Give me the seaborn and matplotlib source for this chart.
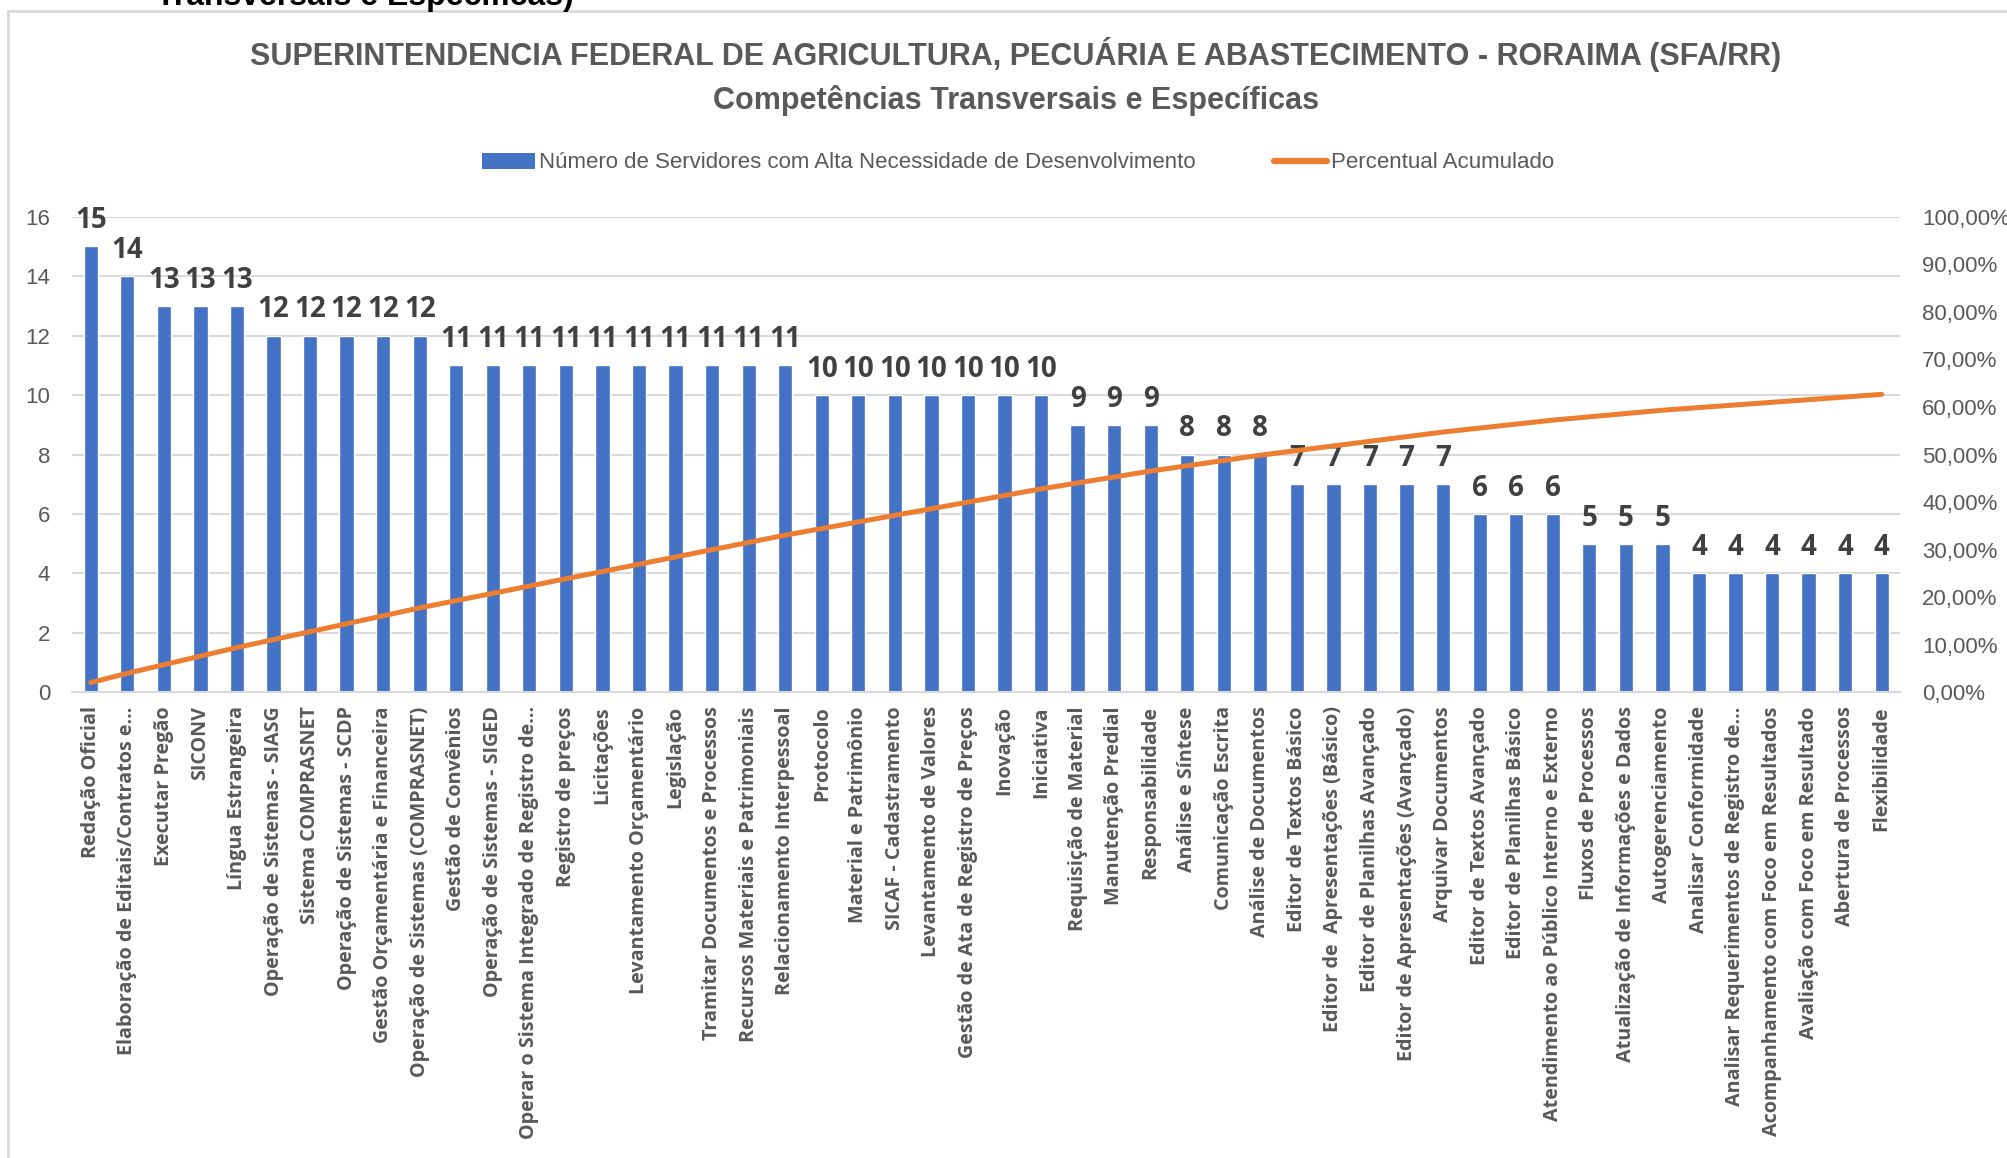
import numpy as np
import pandas as pd
import matplotlib
matplotlib.use("Agg")
import matplotlib.pyplot as plt
from matplotlib import font_manager
from matplotlib.patches import Patch, Rectangle
from matplotlib.lines import Line2D
import seaborn as sns

# dados
competencias = [
    "Redação Oficial", "Elaboração de Editais/Contratos e...", "Executar Pregão", "SICONV",
    "Língua Estrangeira", "Operação de Sistemas - SIASG", "Sistema COMPRASNET",
    "Operação de Sistemas - SCDP", "Gestão Orçamentária e Financeira",
    "Operação de Sistemas (COMPRASNET)", "Gestão de Convênios", "Operação de Sistemas - SIGED",
    "Operar o Sistema Integrado de Registro de...", "Registro de preços", "Licitações",
    "Levantamento Orçamentário", "Legislação", "Tramitar Documentos e Processos",
    "Recursos Materiais e Patrimoniais", "Relacionamento Interpessoal", "Protocolo",
    "Material e Patrimônio", "SICAF - Cadastramento", "Levantamento de Valores",
    "Gestão de Ata de Registro de Preços", "Inovação", "Iniciativa", "Requisição de Material",
    "Manutenção Predial", "Responsabilidade", "Análise e Síntese", "Comunicação Escrita",
    "Análise de Documentos", "Editor de Textos Básico", "Editor de  Apresentações (Básico)",
    "Editor de Planilhas Avançado", "Editor de Apresentações (Avançado)", "Arquivar Documentos",
    "Editor de Textos Avançado", "Editor de Planilhas Básico",
    "Atendimento ao Público Interno e Externo", "Fluxos de Processos",
    "Atualização de Informações e Dados", "Autogerenciamento", "Analisar Conformidade",
    "Analisar Requerimentos de Registro de...", "Acompanhamento com Foco em Resultados",
    "Avaliação com Foco em Resultado", "Abertura de Processos", "Flexibilidade",
]
servidores = [15, 14, 13, 13, 13, 12, 12, 12, 12, 12,
              11, 11, 11, 11, 11, 11, 11, 11, 11, 11,
              10, 10, 10, 10, 10, 10, 10, 9, 9, 9,
              8, 8, 8, 7, 7, 7, 7, 7, 6, 6,
              6, 5, 5, 5, 4, 4, 4, 4, 4, 4]
total_geral = 720  # total de todas as competências (o gráfico mostra só as primeiras)

df = pd.DataFrame({"competencia": competencias, "servidores": servidores})
df["acumulado"] = df["servidores"].cumsum() / total_geral

sns.set_theme(style="white")
nomes = {f.name for f in font_manager.fontManager.ttflist}
estreita = "Liberation Sans Narrow" if "Liberation Sans Narrow" in nomes else "Liberation Sans"
plt.rcParams["font.family"] = [estreita, "DejaVu Sans"]
fonte_rotulos = ["Open Sans", "DejaVu Sans"]

cinza = "#595959"
azul = "#4472C4"
laranja = "#ED7D31"

fig = plt.figure(figsize=(20.08, 11.58), dpi=100)
fig.patch.set_facecolor("white")
ax = fig.add_axes([0.0361, 0.4020, 0.9101, 0.4110])

sns.barplot(data=df, x="competencia", y="servidores", color=azul, saturation=1,
            width=0.39, errorbar=None, ax=ax)
ax.bar_label(ax.containers[0], fmt="%d", padding=8, fontsize=20, fontweight="bold",
             color="#404040", family=fonte_rotulos)

ax2 = ax.twinx()
sns.lineplot(data=df, x="competencia", y="acumulado", color=laranja, linewidth=3.6,
             sort=False, ax=ax2, solid_capstyle="round")

ax.set_xlim(-0.5, len(competencias) - 0.5)
ax.set_ylim(0, 16)
ax2.set_ylim(0, 1)
ax.set_yticks(range(0, 17, 2))
ax.set_yticklabels([str(v) for v in range(0, 17, 2)], fontsize=16, color=cinza)
pcts = np.linspace(0, 1, 11)
ax2.set_yticks(pcts)
ax2.set_yticklabels([f"{p * 100:.2f}%".replace(".", ",") for p in pcts], fontsize=16, color=cinza)
ax.set_xticks(range(len(competencias)))
ax.set_xticklabels(competencias, rotation=90, fontsize=14.2, fontweight="bold", color=cinza,
                   family=fonte_rotulos)
ax.tick_params(axis="x", length=0, pad=10)
ax.tick_params(axis="y", length=0, pad=16)
ax2.tick_params(axis="y", length=0, pad=16)
ax.set_xlabel("")
ax.set_ylabel("")
ax2.set_xlabel("")
ax2.set_ylabel("")

ax.yaxis.grid(True, color="#d9d9d9", linewidth=1.5)
ax.set_axisbelow(True)
for s in ["top", "left", "right"]:
    ax.spines[s].set_visible(False)
ax.spines["bottom"].set_color("#d9d9d9")
ax.spines["bottom"].set_linewidth(1.5)
for s in ax2.spines.values():
    s.set_visible(False)

# títulos
fig.text(0.506, 1 - 54 / 1158, "SUPERINTENDENCIA FEDERAL DE AGRICULTURA, PECUÁRIA E ABASTECIMENTO - RORAIMA (SFA/RR)",
         ha="center", va="center", fontsize=22, fontweight="bold", color=cinza)
fig.text(0.506, 1 - 100 / 1158, "Competências Transversais e Específicas",
         ha="center", va="center", fontsize=22, fontweight="bold", color=cinza)
# texto cortado acima do gráfico
fig.text(156 / 2008, 1 - 5 / 1158, "Transversais e Específicas)", ha="left", va="baseline",
         fontsize=23, fontweight="bold", color="black")

# borda do gráfico
fig.patches.append(Rectangle((8 / 2008, -0.05), 1.2, 1.05 - 11 / 1158, transform=fig.transFigure,
                             fill=False, edgecolor="#d9d9d9", linewidth=2))

handles = [Patch(facecolor=azul, edgecolor="none"),
           Line2D([0], [0], color=laranja, linewidth=4.5, solid_capstyle="round")]
labels = ["Número de Servidores com Alta Necessidade de Desenvolvimento", "Percentual Acumulado"]
fig.legend(handles, labels, loc="center", bbox_to_anchor=(0.507, 1 - 163 / 1158), ncol=2,
           frameon=False, fontsize=16, labelcolor=cinza, handlelength=2.4, handleheight=0.7,
           handletextpad=0.2, columnspacing=3.5)

fig.savefig("out.png", dpi=100)
